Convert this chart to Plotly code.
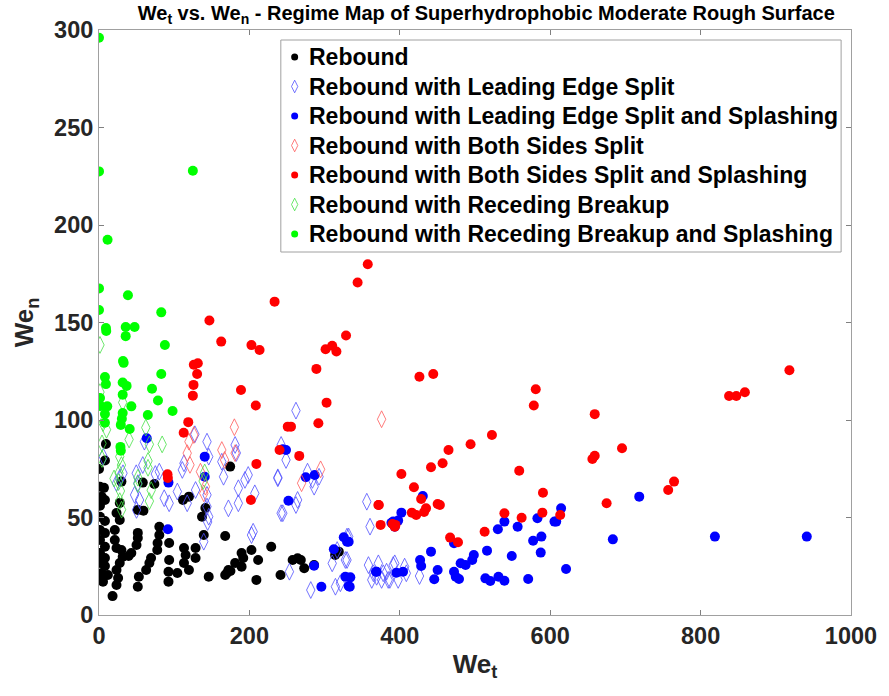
import plotly.graph_objects as go

# ---------------- data ----------------
reb_x = [9.2, 7.9, 0, 1.3, 6.6, 3.5, 7.9, 1.3, 1.3, 7.9, 1.3, 7.9, 1.3, 7.9, 1.3, 7.9, 1.3, 7.9, 3.5, 5.3,
         1.3, 11.8, 29.8, 27.6, 23.3, 27.6, 21, 21, 23.3, 29.8, 31.5, 27.6, 23.3, 25.4, 23.3, 18, 58.2, 73.6,
         51.6, 59.1, 51.6, 51.6, 49.9, 43, 39.4, 69.2, 67, 62.7, 53, 51.6, 80.2, 80.2, 77.9, 77.5, 93.3, 93.3,
         92.4, 92.4, 104.2, 113, 115.2, 113, 119.6, 128.4, 128.4, 139.3, 141.5, 137, 145.9, 167.8, 169.9,
         174.8, 181, 189.6, 191.8, 202.7, 209.3, 211.6, 229, 241.4, 111.7, 119.6, 174.4, 172.1, 167.8, 189.6,
         257.5, 264.1, 268.4, 272.9, 286, 318.9, 314]
reb_y = [87.7, 79.2, 74.9, 65.8, 65.2, 60.7, 59, 56, 50.4, 48.2, 43.6, 42, 38.5, 35, 31.8, 29.2, 26.7, 25.1,
         21.5, 17.1, 19, 20.5, 68.4, 57.5, 52.3, 48.7, 43.6, 38.5, 34.4, 33.3, 29.9, 26.7, 23.1, 19, 15.4, 9.7,
         67.9, 67.2, 53.9, 53.5, 42.1, 39.5, 35.9, 31.8, 30.3, 29.2, 26.7, 23.1, 19.6, 14.5, 45.3, 41, 36.9,
         33.3, 36.9, 28.2, 22.2, 17.1, 21.5, 26.7, 30.8, 34.4, 23.1, 29.2, 34.4, 41, 54.9, 50.4, 19.6, 40.5,
         21.4, 22.6, 26.7, 31.8, 29.2, 33.3, 18, 28.2, 35, 20.5, 59, 60.7, 76.1, 23.1, 20.5, 24.8, 28.2, 29.1,
         28.2, 24, 25.6, 32.5, 30.8]

les_x = [143.6, 145.9, 127.5, 181, 182.6, 113, 110.8, 80.2, 74.9, 58.2, 60.4, 49.5, 23.3, 27.6, 51.6, 53.9,
         49.9, 86.7, 93.3, 104.2, 117.3, 128.4, 143.6, 143.6, 145.9, 144.5, 165.6, 163.3, 172.1, 185.3, 185.3,
         194.1, 198.4, 207.2, 237.8, 242.2, 205, 202.8, 139.3, 5.7, 31.9, 47.3, 261.9, 242.2, 248.7, 237.8,
         244.4, 264.1, 261.9, 277.3, 283.8, 286.1, 292.6, 253.2, 281.6, 310.1, 316.7, 327.6, 314.4, 321, 332,
         356.1, 360.4, 358.3, 364.9, 371.5, 375.8, 382.4, 391.2, 386.7, 362.7, 369.2, 378, 384.6, 393.3, 397.8,
         406.4, 408.7, 426.2, 329.8, 329.8]
les_y = [88.9, 81.2, 92.7, 87.2, 83.1, 77.8, 74.4, 73.5, 72.3, 76.9, 88.9, 72.7, 67.6, 70.3, 67.6, 59, 53.9,
         59.9, 57.3, 63.3, 57.3, 64.1, 61.6, 55.6, 50.4, 47.7, 70.9, 78.6, 54.7, 57.3, 65, 69.3, 71.8, 62.4,
         70.1, 52.2, 42.7, 41, 37.6, 81.2, 72.7, 61.6, 104.8, 87.2, 79.5, 70.6, 52.2, 59, 56.4, 73.5, 69.3, 65.8,
         70.9, 22.2, 12.8, 26.5, 33.3, 28.2, 14.5, 16.3, 40.2, 58.1, 45.3, 25.6, 21.4, 26.5, 18, 22.2, 25.6, 18,
         18, 19.6, 21.4, 18, 26.5, 18, 24.8, 21.4, 20, 40.2, 28.2]

less_x = [63.5, 140.6, 140.6, 92.4, 91.6, 248.7, 244.4, 275, 286.8, 251.9, 286, 325.5, 329.8, 312.3, 327.6,
          334.2, 332, 295.7, 388.9, 369.2, 430.6, 402.1, 391.2, 397.8, 393.3, 332, 333.4, 368.3, 395.5, 404.3,
          441.5, 427, 428.4, 450.3, 445.8, 472.1, 474.4, 478.7, 480.9, 487.5, 496.3, 498.4, 516, 513.8, 520.3,
          531.2, 539.1, 530.4, 539.1, 556.7, 548.9, 570.7, 577.3, 588.3, 587.4, 583, 605.7, 614.5, 621.1, 718.4,
          683.3, 819, 941.2, 472.1, 608]
less_y = [90.6, 81.2, 70.9, 67.9, 44, 84.6, 85, 70.6, 71.8, 58.6, 25.3, 39.9, 37.6, 33.7, 19.6, 19.3, 14.9,
          14.5, 47.3, 22.2, 61, 52.5, 47.9, 48.4, 45.3, 37.6, 14.5, 22.2, 21.7, 22.2, 32.5, 28.2, 25.1, 23.1,
          18.3, 22.2, 19.6, 18.5, 26.5, 25.6, 28.2, 30.8, 33, 18.8, 17.4, 19.6, 17.6, 44, 47.9, 45.3, 30.3,
          18.5, 38.1, 40.2, 32, 49.6, 47.9, 54.7, 23.6, 60.7, 38.8, 40.2, 40.2, 36.8, 47.9]

bss_x = [180, 126.1, 119.6, 117.3, 163.3, 181, 134.9, 141.5, 139.3, 375.8, 294.7, 269.4, 121, 167]
bss_y = [96.3, 92.3, 88.9, 83, 84.6, 83, 73.5, 65.8, 62.4, 100.4, 74.7, 67.6, 77, 79.5]

bsss_x = [357.4, 343.9, 233.5, 146.8, 162.5, 202.7, 213.5, 301.3, 310.1, 315.7, 328.5, 126.1, 131.4, 130.5,
          125.7, 124.8, 188.8, 289.1, 426.1, 444.5, 208.5, 302.6, 291.7, 251, 255.3, 118.7, 112.6, 91.1, 91.6,
          209.3, 202, 240.1, 266.3, 371.5, 374.5, 393.3, 390.3, 580.8, 578.2, 659.2, 522.5, 494.1, 464.8,
          456.9, 441.5, 402.1, 418.8, 428.4, 372.1, 416, 421.8, 434.9, 432.3, 450.3, 453.3, 394.2, 466.9, 477.4,
          512.8, 539.1, 562, 558.8, 590.4, 589.6, 613.3, 656.1, 659.2, 695.5, 675, 756.9, 764.7, 837.9, 847.5,
          858.9, 918.1]
bsss_y = [179.9, 170.5, 160.7, 151, 140.2, 138.4, 135.9, 136.3, 138.1, 135.1, 143.3, 128.3, 129.1, 123.6, 118,
          112.5, 115.4, 126.2, 122.2, 123.6, 107.4, 108.9, 98.3, 96.6, 96.6, 98.9, 93.5, 72.2, 70.3, 77.5, 59,
          84.6, 81.6, 56.4, 46.2, 45.3, 46.7, 115.8, 107.4, 103, 92.3, 87.6, 84.6, 77.8, 75.8, 72.3, 65.5, 59.5,
          56.4, 52.5, 51.3, 54.7, 52.8, 56.9, 56.4, 46.2, 39.7, 37.3, 42.7, 52.2, 49.9, 74, 62.7, 52.5, 51.3, 80,
          81.7, 85.5, 57.3, 64.1, 68.4, 112.3, 112.3, 114.2, 125.5]

rb_x = [1.3, 1.3, 5.3, 31.5, 62.2, 84, 67, 27.6, 29.8, 26.7, 26, 28.5, 27.6, 65.2, 65.2, 51.7, 51.7, 69.4, 67,
        140.5, 138.5, 4, 4, 30, 20, 40, 10]
rb_y = [138.5, 114.3, 98.4, 109, 96.1, 87.5, 87.5, 81.2, 76.9, 72.8, 68.2, 63.6, 58.4, 79, 75.5, 70.4, 67.2,
        64, 58.4, 73.1, 68.7, 88, 80, 54, 70, 90, 95]

rbs_x = [0, 0, 124.8, 11.4, 0, 38.5, 0, 82.8, 9.2, 9.6, 35.5, 35.5, 47.3, 87.6, 31.9, 32.8, 82.8, 7.9, 9.2,
         31.5, 36.7, 70.5, 1.3, 31.5, 78.4, 2.2, 11, 43, 7.9, 31.5, 30.4, 64.9, 97.8, 29, 40.8, 7.9, 28.5, 29]
rbs_y = [296, 227.5, 227.8, 192.4, 167.5, 164, 156.4, 155.2, 147.2, 145.6, 147.7, 143, 147.7, 138.5, 130.3,
         129.3, 123.6, 122, 118.4, 119.2, 117.5, 116, 111.3, 113, 110, 107.2, 107, 107, 103.1, 103.6, 100.6,
         102.6, 104.6, 97.5, 95.4, 98.6, 86.2, 84.2]

x_ticks = [0, 200, 400, 600, 800, 1000]
y_ticks = [0, 50, 100, 150, 200, 250, 300]

names = ["Rebound",
         "Rebound with Leading Edge Split",
         "Rebound with Leading Edge Split and Splashing",
         "Rebound with Both Sides Split",
         "Rebound with Both Sides Split and Splashing",
         "Rebound with Receding Breakup",
         "Rebound with Receding Breakup and Splashing"]

series = [(reb_x, reb_y), (les_x, les_y), (less_x, less_y), (bss_x, bss_y),
          (bsss_x, bsss_y), (rb_x, rb_y), (rbs_x, rbs_y)]

styles = [
    dict(color="#000000", filled=True),
    dict(color="rgb(80,80,255)", filled=False),
    dict(color="#0000ff", filled=True),
    dict(color="rgb(255,90,90)", filled=False),
    dict(color="#ff0000", filled=True),
    dict(color="rgb(70,225,70)", filled=False),
    dict(color="#00ff00", filled=True),
]

# ---------------- layout geometry (pixels of the 889x696 canvas) ----------------
W, H = 889, 696
L, R, T, B = 99, 29, 30, 81
plot_w, plot_h = W - L - R, H - T - B


def px_to_paper_x(px):
    return (px - L) / plot_w


def px_to_paper_y(py):
    return (H - B - py) / plot_h


fig = go.Figure()
for (xs, ys), st, nm in zip(series, styles, names):
    if st["filled"]:
        mk = dict(symbol="circle", size=10, color=st["color"], line=dict(width=0))
    else:
        mk = dict(symbol="diamond-tall-open", size=12, color=st["color"],
                  line=dict(width=0.8, color=st["color"]))
    fig.add_trace(go.Scatter(x=xs, y=ys, mode="markers", marker=mk, name=nm, showlegend=False,
                             hoverinfo="skip"))

# ---------------- hand-built legend (box, glyphs, labels) ----------------
leg_left, leg_right, leg_top, leg_bottom = 283, 850, 40, 252
row_y = [57 + 29.5 * i for i in range(len(names))]
glyph_x = 297
text_x = 309

fig.add_shape(type="rect", xref="paper", yref="paper",
              x0=px_to_paper_x(leg_left), x1=px_to_paper_x(leg_right),
              y0=px_to_paper_y(leg_bottom), y1=px_to_paper_y(leg_top),
              line=dict(color="#a0a0a0", width=1), fillcolor="rgba(255,255,255,0)", layer="above")

for st, nm, ry in zip(styles, names, row_y):
    if st["filled"]:
        mk = dict(symbol="circle", size=7, color=st["color"], line=dict(width=0))
    else:
        mk = dict(symbol="diamond-tall-open", size=9, color=st["color"],
                  line=dict(width=0.8, color=st["color"]))
    fig.add_trace(go.Scatter(x=[px_to_paper_x(glyph_x)], y=[px_to_paper_y(ry)], mode="markers",
                             marker=mk, xaxis="x2", yaxis="y2", showlegend=False, hoverinfo="skip",
                             cliponaxis=False))
    fig.add_annotation(text=f"<b>{nm}</b>", xref="paper", yref="paper",
                       x=px_to_paper_x(text_x), y=px_to_paper_y(ry), xanchor="left", yanchor="middle",
                       showarrow=False, font=dict(family="Arial", size=23, color="#000"))

axis_common = dict(showline=True, linecolor="#a0a0a0", linewidth=1, mirror="ticks", ticks="inside",
                   ticklen=5, tickcolor="#808080", showgrid=False, zeroline=False,
                   tickfont=dict(family="Arial", size=23.5, color="#262626"))

fig.update_layout(
    width=W, height=H,
    margin=dict(l=L, r=R, t=T, b=B),
    paper_bgcolor="white", plot_bgcolor="white",
    font=dict(family="Arial", color="#000"),
    showlegend=False,
    title=dict(text="<b>We<sub>t</sub> vs. We<sub>n</sub> - Regime Map of Superhydrophobic Moderate Rough Surface</b>",
               x=0.547, xanchor="center", y=0.982, yanchor="middle", font=dict(family="Arial", size=20)),
    xaxis=dict(range=[0, 1000], tickvals=x_ticks, ticktext=[f"<b>{v}</b>" for v in x_ticks],
               title=dict(text="<b>We<sub>t</sub></b>", font=dict(family="Arial", size=26, color="#262626"),
                          standoff=6), **axis_common),
    yaxis=dict(range=[0, 300], tickvals=y_ticks, ticktext=[f"<b>{v}</b>" for v in y_ticks],
               title=dict(text="<b>We<sub>n</sub></b>", font=dict(family="Arial", size=26, color="#262626"),
                          standoff=12), **axis_common),
    xaxis2=dict(overlaying="x", range=[0, 1], visible=False),
    yaxis2=dict(overlaying="y", range=[0, 1], visible=False),
)

fig.write_html("out.html")
